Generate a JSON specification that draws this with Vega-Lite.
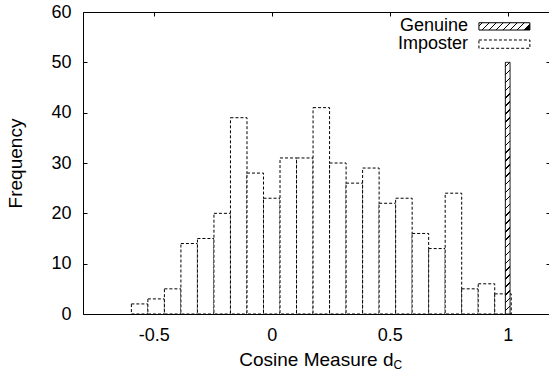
{
  "$schema": "https://vega.github.io/schema/vega-lite/v6.json",
  "width": 466,
  "height": 302,
  "autosize": {"type": "none"},
  "padding": {"left": 83, "top": 12, "right": 0, "bottom": 63},
  "background": "white",
  "config": {
    "view": {"stroke": null},
    "font": "Liberation Sans",
    "axis": {"grid": false, "domainColor": "black", "domainWidth": 1, "tickColor": "black", "tickWidth": 1, "labelColor": "black", "titleColor": "black", "labelFont": "Liberation Sans", "titleFont": "Liberation Sans", "labelFontSize": 18, "titleFontSize": 19, "titleFontWeight": "normal"}
  },
  "layer": [
    {
      "data": {"values": [
        {"lo": -0.595, "hi": -0.525, "n": 2, "type": "Imposter"},
        {"lo": -0.525, "hi": -0.455, "n": 3, "type": "Imposter"},
        {"lo": -0.455, "hi": -0.385, "n": 5, "type": "Imposter"},
        {"lo": -0.385, "hi": -0.315, "n": 14, "type": "Imposter"},
        {"lo": -0.315, "hi": -0.245, "n": 15, "type": "Imposter"},
        {"lo": -0.245, "hi": -0.175, "n": 20, "type": "Imposter"},
        {"lo": -0.175, "hi": -0.105, "n": 39, "type": "Imposter"},
        {"lo": -0.105, "hi": -0.035, "n": 28, "type": "Imposter"},
        {"lo": -0.035, "hi": 0.035, "n": 23, "type": "Imposter"},
        {"lo": 0.035, "hi": 0.105, "n": 31, "type": "Imposter"},
        {"lo": 0.105, "hi": 0.175, "n": 31, "type": "Imposter"},
        {"lo": 0.175, "hi": 0.245, "n": 41, "type": "Imposter"},
        {"lo": 0.245, "hi": 0.315, "n": 30, "type": "Imposter"},
        {"lo": 0.315, "hi": 0.385, "n": 26, "type": "Imposter"},
        {"lo": 0.385, "hi": 0.455, "n": 29, "type": "Imposter"},
        {"lo": 0.455, "hi": 0.525, "n": 22, "type": "Imposter"},
        {"lo": 0.525, "hi": 0.595, "n": 23, "type": "Imposter"},
        {"lo": 0.595, "hi": 0.665, "n": 16, "type": "Imposter"},
        {"lo": 0.665, "hi": 0.735, "n": 13, "type": "Imposter"},
        {"lo": 0.735, "hi": 0.805, "n": 24, "type": "Imposter"},
        {"lo": 0.805, "hi": 0.875, "n": 5, "type": "Imposter"},
        {"lo": 0.875, "hi": 0.945, "n": 6, "type": "Imposter"},
        {"lo": 0.945, "hi": 1.015, "n": 4, "type": "Imposter"}
      ]},
      "mark": {"type": "bar", "fill": "white", "stroke": "black", "strokeWidth": 1, "strokeOpacity": 1, "fillOpacity": 1},
      "encoding": {
        "x": {"field": "lo", "type": "quantitative", "scale": {"domain": [-0.8, 1.175], "nice": false, "zero": false},
          "axis": {"orient": "bottom", "values": [-0.5, 0, 0.5, 1], "labelExpr": "'' + datum.value", "tickSize": -4, "labelPadding": 16, "title": "Cosine Measure d", "titleAlign": "right", "titleAnchor": null, "titleX": 310, "titleY": 51, "titleBaseline": "alphabetic"}},
        "x2": {"field": "hi"},
        "y": {"field": "n", "type": "quantitative", "scale": {"domain": [0, 60], "nice": false},
          "axis": {"orient": "left", "values": [0, 10, 20, 30, 40, 50, 60], "tickSize": -4, "labelPadding": 16, "title": "Frequency", "titleX": -62, "titleBaseline": "alphabetic", "titleAngle": -90}},
        "y2": {"datum": 0},
        "strokeDash": {"field": "type", "type": "nominal", "scale": {"domain": ["Genuine", "Imposter"], "range": [[1, 0], [3, 2]]}, "legend": null}
      }
    },
    {
      "data": {"values": [
        {"lo": 0.99, "hi": 1.01, "n": 50, "type": "Genuine"}
      ]},
      "mark": {"type": "bar", "stroke": "black", "strokeWidth": 1, "fillOpacity": 1,
        "fill": {"gradient": "linear", "x1": 0, "y1": 1, "x2": -0.01875, "y2": 0, "stops": [
          {"offset": 0, "color": "white"},
          {"offset": 0.01, "color": "white"}, {"offset": 0.01, "color": "black"}, {"offset": 0.016, "color": "black"}, {"offset": 0.016, "color": "white"},
          {"offset": 0.04125, "color": "white"}, {"offset": 0.04125, "color": "black"}, {"offset": 0.04725, "color": "black"}, {"offset": 0.04725, "color": "white"},
          {"offset": 0.0725, "color": "white"}, {"offset": 0.0725, "color": "black"}, {"offset": 0.0785, "color": "black"}, {"offset": 0.0785, "color": "white"},
          {"offset": 0.10375, "color": "white"}, {"offset": 0.10375, "color": "black"}, {"offset": 0.10975, "color": "black"}, {"offset": 0.10975, "color": "white"},
          {"offset": 0.135, "color": "white"}, {"offset": 0.135, "color": "black"}, {"offset": 0.141, "color": "black"}, {"offset": 0.141, "color": "white"},
          {"offset": 0.16625, "color": "white"}, {"offset": 0.16625, "color": "black"}, {"offset": 0.17225, "color": "black"}, {"offset": 0.17225, "color": "white"},
          {"offset": 0.1975, "color": "white"}, {"offset": 0.1975, "color": "black"}, {"offset": 0.2035, "color": "black"}, {"offset": 0.2035, "color": "white"},
          {"offset": 0.22875, "color": "white"}, {"offset": 0.22875, "color": "black"}, {"offset": 0.23475, "color": "black"}, {"offset": 0.23475, "color": "white"},
          {"offset": 0.26, "color": "white"}, {"offset": 0.26, "color": "black"}, {"offset": 0.266, "color": "black"}, {"offset": 0.266, "color": "white"},
          {"offset": 0.29125, "color": "white"}, {"offset": 0.29125, "color": "black"}, {"offset": 0.29725, "color": "black"}, {"offset": 0.29725, "color": "white"},
          {"offset": 0.3225, "color": "white"}, {"offset": 0.3225, "color": "black"}, {"offset": 0.3285, "color": "black"}, {"offset": 0.3285, "color": "white"},
          {"offset": 0.35375, "color": "white"}, {"offset": 0.35375, "color": "black"}, {"offset": 0.35975, "color": "black"}, {"offset": 0.35975, "color": "white"},
          {"offset": 0.385, "color": "white"}, {"offset": 0.385, "color": "black"}, {"offset": 0.391, "color": "black"}, {"offset": 0.391, "color": "white"},
          {"offset": 0.41625, "color": "white"}, {"offset": 0.41625, "color": "black"}, {"offset": 0.42225, "color": "black"}, {"offset": 0.42225, "color": "white"},
          {"offset": 0.4475, "color": "white"}, {"offset": 0.4475, "color": "black"}, {"offset": 0.4535, "color": "black"}, {"offset": 0.4535, "color": "white"},
          {"offset": 0.47875, "color": "white"}, {"offset": 0.47875, "color": "black"}, {"offset": 0.48475, "color": "black"}, {"offset": 0.48475, "color": "white"},
          {"offset": 0.51, "color": "white"}, {"offset": 0.51, "color": "black"}, {"offset": 0.516, "color": "black"}, {"offset": 0.516, "color": "white"},
          {"offset": 0.54125, "color": "white"}, {"offset": 0.54125, "color": "black"}, {"offset": 0.54725, "color": "black"}, {"offset": 0.54725, "color": "white"},
          {"offset": 0.5725, "color": "white"}, {"offset": 0.5725, "color": "black"}, {"offset": 0.5785, "color": "black"}, {"offset": 0.5785, "color": "white"},
          {"offset": 0.60375, "color": "white"}, {"offset": 0.60375, "color": "black"}, {"offset": 0.60975, "color": "black"}, {"offset": 0.60975, "color": "white"},
          {"offset": 0.635, "color": "white"}, {"offset": 0.635, "color": "black"}, {"offset": 0.641, "color": "black"}, {"offset": 0.641, "color": "white"},
          {"offset": 0.66625, "color": "white"}, {"offset": 0.66625, "color": "black"}, {"offset": 0.67225, "color": "black"}, {"offset": 0.67225, "color": "white"},
          {"offset": 0.6975, "color": "white"}, {"offset": 0.6975, "color": "black"}, {"offset": 0.7035, "color": "black"}, {"offset": 0.7035, "color": "white"},
          {"offset": 0.72875, "color": "white"}, {"offset": 0.72875, "color": "black"}, {"offset": 0.73475, "color": "black"}, {"offset": 0.73475, "color": "white"},
          {"offset": 0.76, "color": "white"}, {"offset": 0.76, "color": "black"}, {"offset": 0.766, "color": "black"}, {"offset": 0.766, "color": "white"},
          {"offset": 0.79125, "color": "white"}, {"offset": 0.79125, "color": "black"}, {"offset": 0.79725, "color": "black"}, {"offset": 0.79725, "color": "white"},
          {"offset": 0.8225, "color": "white"}, {"offset": 0.8225, "color": "black"}, {"offset": 0.8285, "color": "black"}, {"offset": 0.8285, "color": "white"},
          {"offset": 0.85375, "color": "white"}, {"offset": 0.85375, "color": "black"}, {"offset": 0.85975, "color": "black"}, {"offset": 0.85975, "color": "white"},
          {"offset": 0.885, "color": "white"}, {"offset": 0.885, "color": "black"}, {"offset": 0.891, "color": "black"}, {"offset": 0.891, "color": "white"},
          {"offset": 0.91625, "color": "white"}, {"offset": 0.91625, "color": "black"}, {"offset": 0.92225, "color": "black"}, {"offset": 0.92225, "color": "white"},
          {"offset": 0.9475, "color": "white"}, {"offset": 0.9475, "color": "black"}, {"offset": 0.9535, "color": "black"}, {"offset": 0.9535, "color": "white"},
          {"offset": 0.97875, "color": "white"}, {"offset": 0.97875, "color": "black"}, {"offset": 0.98475, "color": "black"}, {"offset": 0.98475, "color": "white"},
          {"offset": 1, "color": "white"}
        ]}},
      "encoding": {
        "x": {"field": "lo", "type": "quantitative", "scale": {"domain": [-0.8, 1.175], "nice": false, "zero": false},
          "axis": {"orient": "top", "values": [-0.5, 0, 0.5, 1], "labels": false, "tickSize": -4, "domain": true, "title": "C", "titleFontSize": 12, "titleAlign": "left", "titleAnchor": null, "titleX": 310, "titleY": 356, "titleBaseline": "alphabetic"}},
        "x2": {"field": "hi"},
        "y": {"field": "n", "type": "quantitative", "scale": {"domain": [0, 60], "nice": false},
          "axis": {"orient": "right", "values": [0, 10, 20, 30, 40, 50, 60], "labels": false, "domain": false, "tickSize": -3, "title": null}},
        "y2": {"datum": 0},
        "strokeDash": {"field": "type", "type": "nominal", "scale": {"domain": ["Genuine", "Imposter"], "range": [[1, 0], [3, 2]]}, "legend": null}
      }
    },
    {
      "data": {"values": [{"label": "Genuine"}]},
      "mark": {"type": "rect", "stroke": "black", "strokeWidth": 1,
        "fill": {"gradient": "linear", "x1": 0, "y1": 0, "x2": 1, "y2": 0.143, "stops": [
          {"offset": 0, "color": "white"},
          {"offset": 0.05, "color": "white"}, {"offset": 0.05, "color": "black"}, {"offset": 0.075, "color": "black"}, {"offset": 0.075, "color": "white"},
          {"offset": 0.1845, "color": "white"}, {"offset": 0.1845, "color": "black"}, {"offset": 0.2095, "color": "black"}, {"offset": 0.2095, "color": "white"},
          {"offset": 0.319, "color": "white"}, {"offset": 0.319, "color": "black"}, {"offset": 0.344, "color": "black"}, {"offset": 0.344, "color": "white"},
          {"offset": 0.4535, "color": "white"}, {"offset": 0.4535, "color": "black"}, {"offset": 0.4785, "color": "black"}, {"offset": 0.4785, "color": "white"},
          {"offset": 0.588, "color": "white"}, {"offset": 0.588, "color": "black"}, {"offset": 0.613, "color": "black"}, {"offset": 0.613, "color": "white"},
          {"offset": 0.7225, "color": "white"}, {"offset": 0.7225, "color": "black"}, {"offset": 0.7475, "color": "black"}, {"offset": 0.7475, "color": "white"},
          {"offset": 0.857, "color": "white"}, {"offset": 0.857, "color": "black"}, {"offset": 0.882, "color": "black"}, {"offset": 0.882, "color": "white"},
          {"offset": 0.9915, "color": "white"}, {"offset": 0.9915, "color": "black"}, {"offset": 1, "color": "black"}
        ]}},
      "encoding": {
        "x": {"datum": 0.878, "type": "quantitative", "scale": {"domain": [-0.8, 1.175], "nice": false, "zero": false}, "axis": null},
        "x2": {"datum": 1.094},
        "y": {"datum": 57.87, "type": "quantitative", "scale": {"domain": [0, 60], "nice": false}, "axis": null},
        "y2": {"datum": 56.42}
      }
    },
    {
      "data": {"values": [{"label": "Imposter"}]},
      "mark": {"type": "rect", "fill": "white", "stroke": "black", "strokeWidth": 1, "strokeDash": [3, 2]},
      "encoding": {
        "x": {"datum": 0.878, "type": "quantitative", "scale": {"domain": [-0.8, 1.175], "nice": false, "zero": false}, "axis": null},
        "x2": {"datum": 1.094},
        "y": {"datum": 54.44, "type": "quantitative", "scale": {"domain": [0, 60], "nice": false}, "axis": null},
        "y2": {"datum": 52.79}
      }
    },
    {
      "data": {"values": [{"label": "Genuine"}]},
      "mark": {"type": "text", "align": "right", "baseline": "alphabetic", "fontSize": 18, "font": "Liberation Sans", "color": "black"},
      "encoding": {
        "x": {"datum": 0.8317, "type": "quantitative", "scale": {"domain": [-0.8, 1.175], "nice": false, "zero": false}, "axis": null},
        "y": {"datum": 56.13, "type": "quantitative", "scale": {"domain": [0, 60], "nice": false}, "axis": null},
        "text": {"field": "label"}
      }
    },
    {
      "data": {"values": [{"label": "Imposter"}]},
      "mark": {"type": "text", "align": "right", "baseline": "alphabetic", "fontSize": 18, "font": "Liberation Sans", "color": "black"},
      "encoding": {
        "x": {"datum": 0.8317, "type": "quantitative", "scale": {"domain": [-0.8, 1.175], "nice": false, "zero": false}, "axis": null},
        "y": {"datum": 52.65, "type": "quantitative", "scale": {"domain": [0, 60], "nice": false}, "axis": null},
        "text": {"field": "label"}
      }
    }
  ],
  "resolve": {"axis": {"x": "independent", "y": "independent"}}
}
